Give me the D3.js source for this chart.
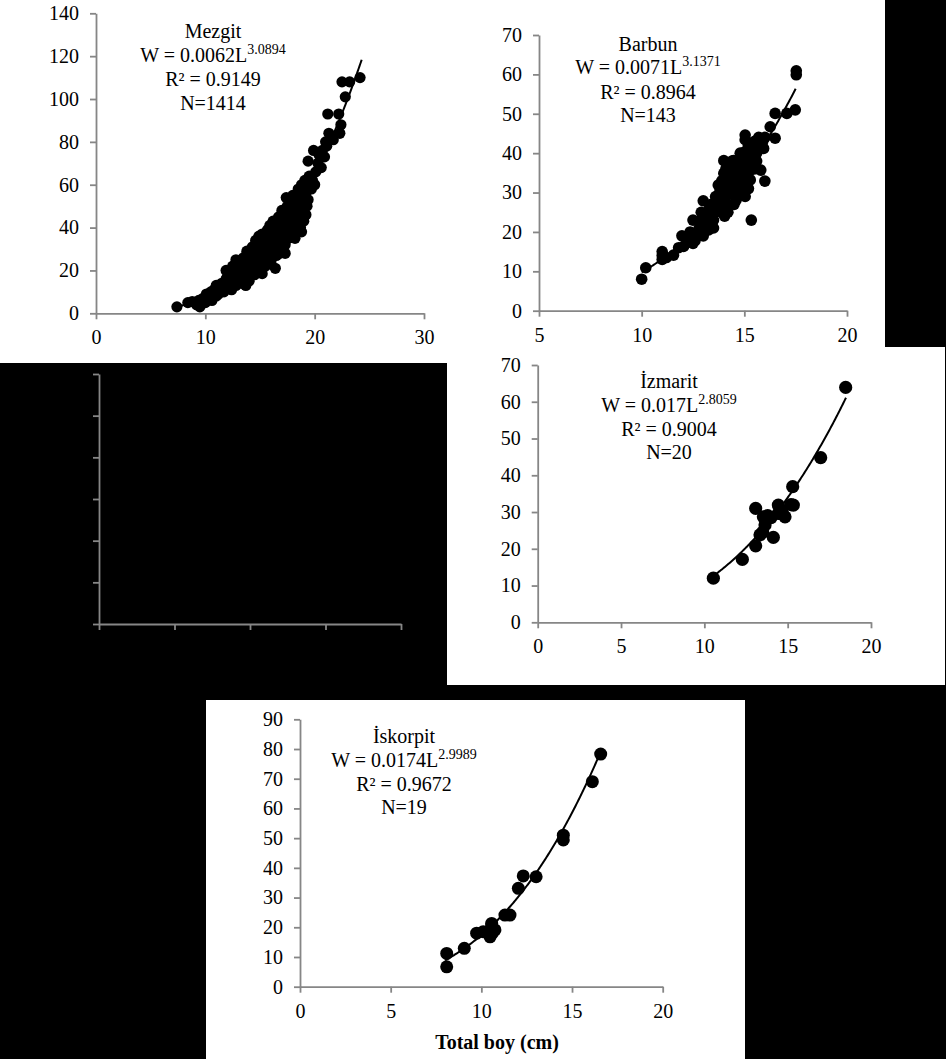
<!DOCTYPE html>
<html><head><meta charset="utf-8">
<script src="https://cdn.jsdelivr.net/npm/d3@7"></script>
<style>body{margin:0;background:#000}svg{display:block}</style>
</head><body><svg id="c" width="946" height="1059"></svg>
<script>
// ---------- DATA ----------
const mezgitPoints = [
[7.4,3],[8.4,5],[8.8,5.5],[9.2,4],[9.5,3],[9.4,6],[9.8,7],[10.1,9],[10.0,5],[10.3,8],[10.5,10],[10.6,6],[10.8,11],[11.0,13],[11.0,8],[11.2,9],[11.4,12],[11.5,14],[11.7,10],[11.9,16],[11.9,20],[12.0,12],[12.2,18],[12.3,14],[12.4,11],[12.5,22],[12.6,16],[12.8,25],[12.8,13],[13.0,19],[13.1,15],[13.2,23],[13.4,17],[13.5,26],[13.5,21],[13.7,13],[13.8,29],[13.8,24],[13.9,18],[14.0,15],[14.1,27],[14.2,21],[14.3,31],[14.4,24],[14.5,18],[14.6,34],[14.6,28],[14.7,22],[14.8,26],[14.9,36],[15.0,31],[15.0,20],[15.1,24],[15.2,18.5],[15.2,37],[15.3,28],[15.4,33],[15.5,22],[15.6,38],[15.6,30],[15.7,26],[15.8,35],[15.9,41],[16.0,29],[16.0,24],[16.1,33],[16.2,43],[16.3,37],[16.4,21],[16.4,31],[16.5,27],[16.6,40],[16.7,45],[16.8,35],[16.9,30],[17.0,48],[17.0,42],[17.1,38],[17.2,33],[17.3,28],[17.4,54],[17.5,45],[17.6,40],[17.7,36],[17.8,50],[17.9,43],[18.0,55],[18.0,38],[18.1,47],[18.2,35],[18.3,52],[18.4,42],[18.5,58],[18.6,48],[18.7,44],[18.8,38],[18.8,60],[18.9,53],[19.0,43],[19.1,62],[19.2,56],[19.3,50],[19.4,53],[19.4,71],[19.5,64],[19.6,60],[19.7,58],[19.8,62],[19.9,76],[20.0,60],[20.1,66],[20.3,70],[20.4,74],[20.6,68],[20.7,76],[20.9,73],[21.0,80],[21.1,78],[21.3,84],[21.2,93],[21.5,82],[21.7,81],[22.2,93],[22.3,84],[22.4,88],[22.5,108],[22.8,101],[23.2,108],[24.15,110],
[10.2,7],[10.7,8],[11.1,11],[11.3,10],[11.6,12],[11.8,14],[12.1,15],[12.3,17],[12.4,20],[12.7,18],[12.9,21],[13.0,17],[13.2,20],[13.3,25],[13.4,14],[13.6,23],[13.7,19],[13.9,26],[14.0,22],[14.1,17],[14.2,29],[14.3,25],[14.4,20],[14.5,30],[14.6,25],[14.7,32],[14.8,21],[14.9,28],[15.0,34],[15.1,27],[15.2,22],[15.3,35],[15.4,29],[15.5,25],[15.6,34],[15.7,39],[15.8,28],[15.9,32],[16.0,37],[16.1,40],[16.2,30],[16.3,27],[16.4,35],[16.5,42],[16.6,33],[16.7,38],[16.8,28],[16.9,43],[17.0,36],[17.1,46],[17.2,40],[17.3,32],[17.4,44],[17.5,50],[17.6,35],[17.7,46],[17.8,40],[17.9,52],[18.0,44],[18.1,40],[18.2,50],[18.3,46],[18.4,55],[18.5,45],[18.6,52],[18.7,40],[18.9,47],[19.0,57],[19.1,50],[19.2,46]
];
const barbunPoints = [
[10.0,8],[10.2,10.9],[11.0,15],[11.0,13],[11.2,13.5],[11.0,14],[11.55,14.1],[11.8,16],[11.96,19],[12.04,16.3],[12.2,18],[12.36,20],[12.5,23],[12.6,17.8],[12.5,17.1],[12.7,19],[12.8,21],[12.9,23],[13.0,27.9],[13.1,24.7],[13.0,19],[13.1,22],[13.26,20.5],[13.2,24],[13.3,26],[13.4,22],[13.5,23],[13.5,25],[13.6,27.4],[13.6,25],[13.7,28],[13.8,31.9],[13.8,30],[13.9,27],[14.0,34.9],[14.0,38.1],[14.04,24],[14.0,32],[14.1,29],[14.2,31],[14.2,34],[14.3,36],[14.3,29.8],[14.4,30],[14.47,38.1],[14.5,27],[14.5,35],[14.6,28.1],[14.6,32],[14.6,38],[14.7,30],[14.8,35.7],[14.8,34],[14.8,40],[14.9,37],[15.04,44.6],[15.04,43.4],[15.04,40.4],[15.04,29],[15.0,36],[15.1,34],[15.2,31],[15.2,42],[15.34,23],[15.29,33.2],[15.4,38],[15.45,36.6],[15.5,40],[15.5,43],[15.6,38],[15.7,44],[15.8,42.9],[15.8,35.7],[15.94,41.2],[16.0,32.9],[16.26,46.7],[16.5,50.1],[16.5,43.8],[17.07,50.1],[17.48,51],[17.53,59.9],[17.53,60.9],
[13.4,27],[13.6,29],[13.8,26],[13.9,33],[14.1,36],[14.2,27],[14.3,33],[14.4,38],[14.5,32],[14.7,36],[14.8,38],[14.9,33],[15.0,38],[15.1,39],[15.3,37],[15.4,41],[15.6,40],[15.7,42],[15.9,43],[16.0,44],[13.3,21],[13.5,21],[14.0,26],[14.2,25],[12.9,25],[13.0,24],[14.9,31],[15.2,35],[15.5,36],[13.73,31.9]
];
const izmaritPoints = [
[10.54,12.0],[12.28,17.1],[13.08,20.8],[13.08,31.0],[13.34,23.8],[13.5,24.5],[13.54,28.7],[13.64,26.5],[13.8,29],[14.0,28.5],[14.14,23.1],[14.44,31.9],[14.44,29.6],[14.6,30.5],[14.7,29.5],[14.84,28.7],[15.2,32],[15.3,36.9],[15.34,31.9],[16.98,44.8],[18.48,63.9]
];
const iskorpitPoints = [
[8.09,6.7],[8.09,11.2],[9.06,12.9],[9.74,18],[10.1,18.5],[10.48,16.8],[10.57,20.8],[10.57,21.3],[10.6,18],[10.75,19.1],[11.3,24.1],[11.58,24.1],[12.04,33.1],[12.31,37.3],[13.02,37],[14.52,51],[14.52,49.4],[16.12,69],[16.58,78.3]
];
const mezgitFit = [0.0062, 3.0894, 7.4, 24.3];
const barbunFit = [0.0071, 3.1371, 10.0, 17.5];
const izmaritFit = [0.017, 2.8059, 10.5, 18.5];
const iskorpitFit = [0.0174, 2.9989, 8.0, 16.6];
const mezgitText = ["Mezgit", "W = 0.0062L", "3.0894", "R² = 0.9149", "N=1414"];
const barbunText = ["Barbun", "W = 0.0071L", "3.1371", "R² = 0.8964", "N=143"];
const izmaritText = ["İzmarit", "W = 0.017L", "2.8059", "R² = 0.9004", "N=20"];
const iskorpitText = ["İskorpit", "W = 0.0174L", "2.9989", "R² = 0.9672", "N=19"];
const mezgitXTicks = [0, 10, 20, 30];
const mezgitYTicks = [0, 20, 40, 60, 80, 100, 120, 140];
const barbunXTicks = [5, 10, 15, 20];
const barbunYTicks = [0, 10, 20, 30, 40, 50, 60, 70];
const izmaritXTicks = [0, 5, 10, 15, 20];
const izmaritYTicks = [0, 10, 20, 30, 40, 50, 60, 70];
const iskorpitXTicks = [0, 5, 10, 15, 20];
const iskorpitYTicks = [0, 10, 20, 30, 40, 50, 60, 70, 80, 90];
const hiddenXTicks = [0, 5, 10, 15, 20];
const hiddenYTicks = [0, 10, 20, 30, 40, 50, 60];
const xAxisTitle = "Total boy (cm)";

// ---------- DRAW ----------
const FONT = "'Liberation Serif','Times New Roman',serif";
const AXIS = "#868686";
const svg = d3.select("#c");
svg.append("rect").attr("width", 946).attr("height", 1059).attr("fill", "#000");
[[0,0,447,363],[447,0,438,347],[447,347,498,338],[206,700,539,359]].forEach(r =>
  svg.append("rect").attr("x", r[0]).attr("y", r[1]).attr("width", r[2]).attr("height", r[3]).attr("fill", "#fff"));

function styleAxis(g) {
  g.select(".domain").attr("stroke", AXIS).attr("stroke-width", 1.8);
  g.selectAll(".tick line").attr("stroke", AXIS).attr("stroke-width", 1.8);
  g.selectAll(".tick text").attr("fill", "#000").attr("font-family", FONT).attr("font-size", 20);
  g.attr("font-family", FONT);
}

function chart(c) {
  const x = d3.scaleLinear().domain(c.xd).range(c.xr);
  const y = d3.scaleLinear().domain(c.yd).range(c.yr);
  const gx = svg.append("g").attr("transform", `translate(0,${c.yr[0]})`)
    .call(d3.axisBottom(x).tickValues(c.xt).tickSize(6).tickSizeOuter(0).tickPadding(11)
      .tickFormat(c.pts ? d3.format("d") : () => ""));
  styleAxis(gx);
  const gy = svg.append("g").attr("transform", `translate(${c.xr[0]},0)`)
    .call(d3.axisLeft(y).tickValues(c.yt).tickSize(6).tickSizeOuter(0).tickPadding(11)
      .tickFormat(c.pts ? d3.format("d") : () => ""));
  styleAxis(gy);
  if (!c.pts) return;
  svg.append("g").selectAll("circle").data(c.pts).join("circle")
    .attr("cx", d => x(d[0])).attr("cy", d => y(d[1])).attr("r", c.r).attr("fill", "#000");
  const [a, b, l0, l1] = c.fit;
  const ls = d3.range(l0, l1 + 1e-9, 0.05);
  svg.append("path").datum(ls)
    .attr("d", d3.line().x(l => x(l)).y(l => y(a * Math.pow(l, b))))
    .attr("fill", "none").attr("stroke", "#000").attr("stroke-width", 2);
  const t = c.txt, cx = c.tx, ys = c.ty;
  const T = svg.append("g").attr("font-family", FONT).attr("font-size", 20).attr("fill", "#000").attr("text-anchor", "middle");
  T.append("text").attr("x", cx).attr("y", ys[0]).text(t[0]);
  const w = T.append("text").attr("x", cx).attr("y", ys[1]);
  w.append("tspan").text(t[1]);
  w.append("tspan").attr("font-size", 14).attr("dy", -8).text(t[2]);
  T.append("text").attr("x", cx).attr("y", ys[2]).text(t[3]);
  T.append("text").attr("x", cx).attr("y", ys[3]).text(t[4]);
}

chart({xd:[0,30], xr:[96,424], yd:[0,140], yr:[313.3,13.3], xt:mezgitXTicks, yt:mezgitYTicks,
  pts:mezgitPoints, r:5.6, fit:mezgitFit, txt:mezgitText, tx:213, ty:[38,62,86,110]});
chart({xd:[5,20], xr:[539,847], yd:[0,70], yr:[310.7,35], xt:barbunXTicks, yt:barbunYTicks,
  pts:barbunPoints, r:5.8, fit:barbunFit, txt:barbunText, tx:648, ty:[50.5,74,98.5,122]});
chart({xd:[0,20], xr:[537.7,871], yd:[0,70], yr:[622.3,365], xt:izmaritXTicks, yt:izmaritYTicks,
  pts:izmaritPoints, r:6.6, fit:izmaritFit, txt:izmaritText, tx:669, ty:[388,412,436,459]});
chart({xd:[0,20], xr:[300,662.7], yd:[0,90], yr:[986.7,719.3], xt:iskorpitXTicks, yt:iskorpitYTicks,
  pts:iskorpitPoints, r:6.5, fit:iskorpitFit, txt:iskorpitText, tx:404, ty:[743,767,790.5,814]});
chart({xd:[0,20], xr:[99,401], yd:[0,60], yr:[624,374], xt:hiddenXTicks, yt:hiddenYTicks});

svg.append("text").attr("x", 497).attr("y", 1049).attr("text-anchor", "middle")
  .attr("font-family", FONT).attr("font-size", 20).attr("font-weight", "bold").attr("fill", "#000")
  .text(xAxisTitle);
</script></body></html>
